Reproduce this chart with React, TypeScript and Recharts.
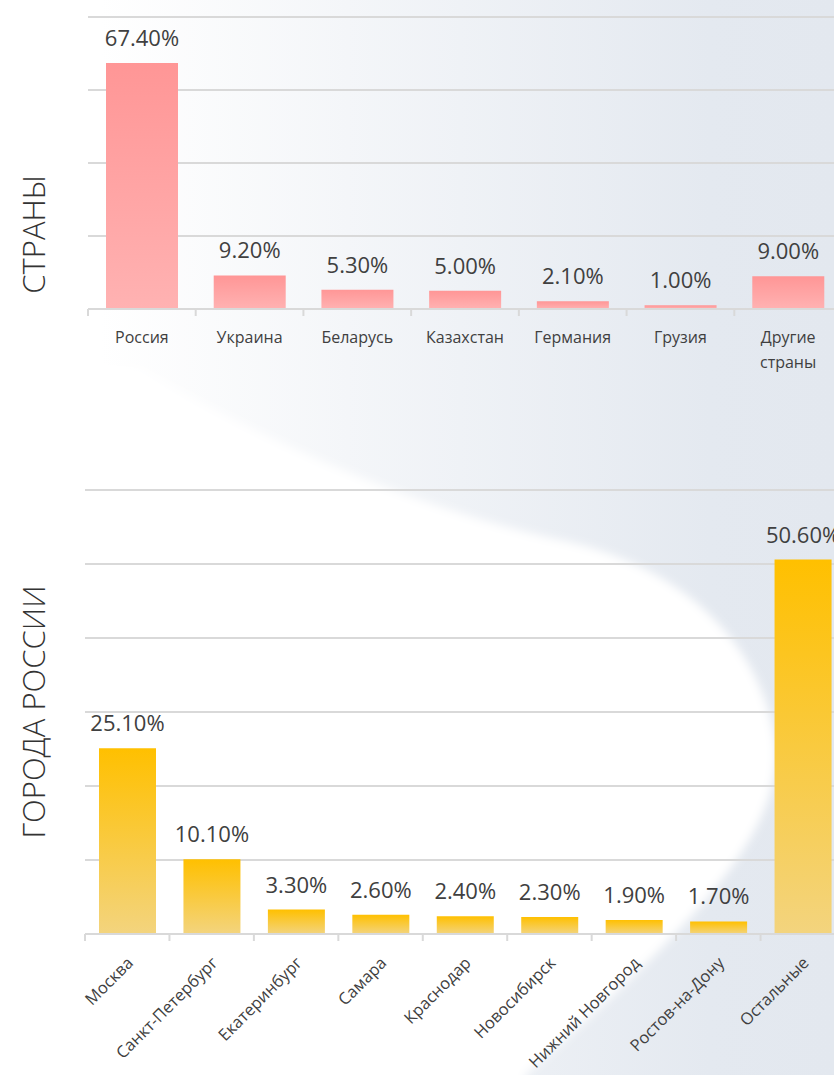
import { BarChart, Bar, XAxis, YAxis, CartesianGrid, LabelList } from "recharts"

const countries = ["Россия", "Украина", "Беларусь", "Казахстан", "Германия", "Грузия", "Другие страны"]
const countryShares = [67.4, 9.2, 5.3, 5.0, 2.1, 1.0, 9.0]
const countryTicks = [0, 20, 40, 60, 80]

const cities = [
  "Москва",
  "Санкт-Петербург",
  "Екатеринбург",
  "Самара",
  "Краснодар",
  "Новосибирск",
  "Нижний Новгород",
  "Ростов-на-Дону",
  "Остальные",
]
const cityShares = [25.1, 10.1, 3.3, 2.6, 2.4, 2.3, 1.9, 1.7, 50.6]
const cityTicks = [0, 10, 20, 30, 40, 50, 60]

const FONT = "'Open Sans', 'Noto Sans', sans-serif"
const GRID = "#d9d9d9"
const TEXT = "#404040"

const countryData = countries.map((name, i) => ({ name, value: countryShares[i] }))
const cityData = cities.map((name, i) => ({ name, value: cityShares[i] }))

const pct = (v: any) => `${Number(v).toFixed(2)}%`

// category boundary tick + (possibly wrapped) label
function CountryTick({ x, y, payload, step }: any) {
  const label: string = payload.value
  const lines = label.length > 10 ? label.split(" ") : [label]
  const bx = x - step / 2
  return (
    <g>
      <line x1={bx} x2={bx} y1={y - 8} y2={y - 1} stroke={GRID} strokeWidth={2} />
      <text x={x} y={y + 26} textAnchor="middle" fill={TEXT} fontSize={16} fontFamily={FONT}>
        {lines.map((l, i) => (
          <tspan key={i} x={x} dy={i === 0 ? 0 : 25}>
            {l}
          </tspan>
        ))}
      </text>
    </g>
  )
}

function CityTick({ x, y, payload, step }: any) {
  const bx = x - step / 2
  const ax = x + 7
  const ay = y + 22
  return (
    <g>
      <line x1={bx} x2={bx} y1={y - 8} y2={y - 1} stroke={GRID} strokeWidth={2} />
      <text
        x={ax}
        y={ay}
        transform={`rotate(-45 ${ax} ${ay})`}
        textAnchor="end"
        fill={TEXT}
        fontSize={16.5}
        fontFamily={FONT}
      >
        {payload.value}
      </text>
    </g>
  )
}

const noTick = () => <g />

function SideTitle({ text, cx, cy }: { text: string; cx: number; cy: number }) {
  return (
    <text
      x={cx}
      y={cy}
      transform={`rotate(-90 ${cx} ${cy})`}
      textAnchor="middle"
      dominantBaseline="central"
      fill="#333"
      fontSize={31}
      fontWeight={300}
      fontFamily={FONT}
    >
      {text}
    </text>
  )
}

function Background() {
  return (
    <svg width={834} height={1075} style={{ position: "absolute", left: 0, top: 0 }}>
      <defs>
        <linearGradient id="bgFade" x1="0" y1="0" x2="1" y2="0">
          <stop offset="0%" stopColor="#ffffff" />
          <stop offset="12%" stopColor="#ffffff" />
          <stop offset="85%" stopColor="#e4e9f0" />
          <stop offset="100%" stopColor="#e3e8ef" />
        </linearGradient>
        <filter id="soft" x="-10%" y="-10%" width="120%" height="120%">
          <feGaussianBlur stdDeviation="5" />
        </filter>
      </defs>
      <rect x={0} y={0} width={834} height={1075} fill="url(#bgFade)" />
      <path
        d="M -30,350 L 140,368 C 260,440 420,510 560,540 C 680,565 760,640 775,740 C 785,830 700,920 525,1075 L 525,1110 L -30,1110 Z"
        fill="#ffffff"
        filter="url(#soft)"
      />
    </svg>
  )
}

export default function App() {
  const topW = 860
  const topMargin = { top: 17, right: 18, left: 88, bottom: 0 }
  const topStep = (topW - topMargin.left - topMargin.right) / countries.length

  const botW = 860
  const botMargin = { top: 20, right: 15, left: 85, bottom: 0 }
  const botStep = (botW - botMargin.left - botMargin.right) / cities.length

  return (
    <div
      style={{
        position: "absolute",
        left: 0,
        top: 0,
        width: 834,
        height: 1075,
        overflow: "hidden",
        background: "#fff",
        fontFamily: FONT,
      }}
    >
      <Background />

      <div style={{ position: "absolute", left: 0, top: 0 }}>
        <BarChart width={topW} height={380} data={countryData} margin={topMargin}>
          <defs>
            <linearGradient id="pinkBar" x1="0" y1="0" x2="0" y2="1">
              <stop offset="0%" stopColor="#ff9696" />
              <stop offset="100%" stopColor="#ffb2b2" />
            </linearGradient>
          </defs>
          <CartesianGrid vertical={false} stroke={GRID} strokeWidth={2} />
          <XAxis
            dataKey="name"
            height={71}
            interval={0}
            axisLine={{ stroke: GRID, strokeWidth: 2 }}
            tickLine={false}
            tick={<CountryTick step={topStep} />}
          />
          <YAxis
            width={0}
            domain={[0, 80]}
            ticks={countryTicks}
            interval={0}
            axisLine={false}
            tickLine={false}
            tick={noTick}
          />
          <Bar dataKey="value" fill="url(#pinkBar)" barSize={72} isAnimationActive={false}>
            <LabelList
              dataKey="value"
              position="top"
              offset={17}
              formatter={pct}
              fill={TEXT}
              fontSize={22}
              fontFamily={FONT}
            />
          </Bar>
        </BarChart>
      </div>

      <div style={{ position: "absolute", left: 0, top: 470 }}>
        <BarChart width={botW} height={605} data={cityData} margin={botMargin}>
          <defs>
            <linearGradient id="goldBar" x1="0" y1="0" x2="0" y2="1">
              <stop offset="0%" stopColor="#ffc000" />
              <stop offset="100%" stopColor="#f3d47e" />
            </linearGradient>
          </defs>
          <CartesianGrid vertical={false} stroke={GRID} strokeWidth={2} />
          <XAxis
            dataKey="name"
            height={141}
            interval={0}
            axisLine={{ stroke: GRID, strokeWidth: 2 }}
            tickLine={false}
            tick={<CityTick step={botStep} />}
          />
          <YAxis
            width={0}
            domain={[0, 60]}
            ticks={cityTicks}
            interval={0}
            axisLine={false}
            tickLine={false}
            tick={noTick}
          />
          <Bar dataKey="value" fill="url(#goldBar)" barSize={57} isAnimationActive={false}>
            <LabelList
              dataKey="value"
              position="top"
              offset={17}
              formatter={pct}
              fill={TEXT}
              fontSize={22}
              fontFamily={FONT}
            />
          </Bar>
        </BarChart>
      </div>

      <svg width={834} height={1075} style={{ position: "absolute", left: 0, top: 0, pointerEvents: "none" }}>
        <SideTitle text="СТРАНЫ" cx={33} cy={234} />
        <SideTitle text="ГОРОДА РОССИИ" cx={33} cy={712} />
      </svg>
    </div>
  )
}
